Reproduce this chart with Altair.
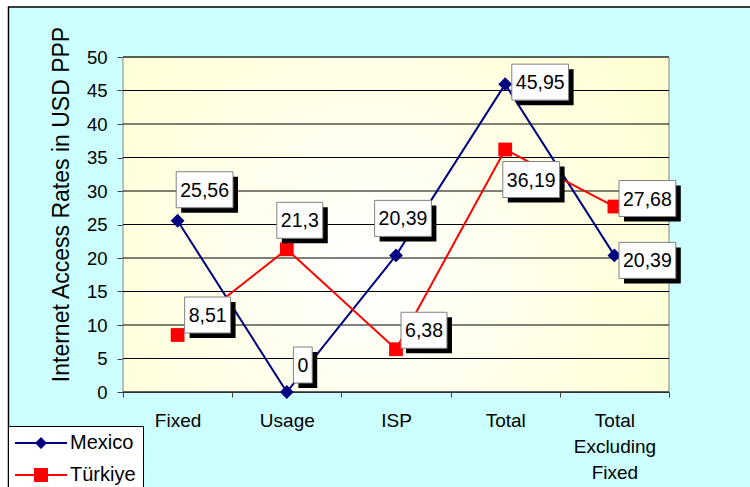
import altair as alt
import pandas as pd

# ---------------- data ----------------
categories = ["Fixed", "Usage", "ISP", "Total", "Total Excluding Fixed"]
series = ["Mexico", "Türkiye"]
mexico = [25.56, 0, 20.39, 45.95, 20.39]
turkiye = [8.51, 21.3, 6.38, 36.19, 27.68]
y_ticks = [0, 5, 10, 15, 20, 25, 30, 35, 40, 45, 50]
y_title = "Internet Access Rates in USD PPP"

# ---------------- layout / style ----------------
FONT = "Liberation Sans"
W, H = 546, 335
PAD = {"left": 123, "top": 57, "right": 81, "bottom": 95}
series_colors = ["#000080", "#FF0000"]
# callout offsets (pixels, relative to each point)
mex_dx = [27, 16, 7, 35, 33]
mex_dy = [-31, -27, -37, -2, 5]
tur_dx = [30, 13, 28, 26, 33]
tur_dy = [-20, -29, -19, 30, -8]
BOX_H = 36
LABEL_FS = 19.5


def fmt(v):
    return f"{v:g}".replace(".", ",")


rows = []
for s, vals in zip(series, [mexico, turkiye]):
    for c, v in zip(categories, vals):
        rows.append({"category": c, "series": s, "value": v, "label": fmt(v)})
df = pd.DataFrame(rows)

y_scale = alt.Scale(domain=[0, 50], nice=False)

x_enc = alt.X(
    "category:N",
    sort=categories,
    scale=alt.Scale(type="band", paddingInner=0, paddingOuter=0),
    axis=alt.Axis(
        title=None,
        labelAngle=0,
        labelExpr="split(datum.label, ' ')",
        labelFontSize=19,
        labelColor="black",
        labelLineHeight=26,
        labelPadding=14,
        tickBand="extent",
        tickSize=5,
        tickColor="#404040",
        domainColor="#404040",
        grid=False,
    ),
)
y_axis = alt.Axis(
    values=y_ticks,
    title=y_title,
    titleFontSize=23,
    titleFontWeight="normal",
    titleColor="black",
    titleAngle=270,
    titleX=-55,
    titleY=147,
    titleAlign="center",
    titleBaseline="alphabetic",
    labelFontSize=18.5,
    labelColor="black",
    labelPadding=10,
    tickSize=6,
    tickColor="#404040",
    domainColor="#404040",
    grid=False,
)
y_enc = alt.Y("value:Q", scale=y_scale, axis=y_axis, title=y_title)

color_scale = alt.Scale(domain=series, range=series_colors)
color_plain = alt.Color("series:N", scale=color_scale, legend=None)

base = alt.Chart(df)
lines = base.mark_line(strokeWidth=2).encode(x=x_enc, y=y_enc, color=color_plain, detail="series:N")
points = base.mark_point(filled=True, opacity=1, size=190).encode(
    x=x_enc,
    y=y_enc,
    color=color_plain,
    shape=alt.Shape("series:N", scale=alt.Scale(domain=series, range=["diamond", "square"]), legend=None),
)

# plot-area background and gridlines
one = pd.DataFrame({"k": [0]})
plot_bg = alt.Chart(one).mark_rect(
    fill=alt.Gradient(
        gradient="radial",
        stops=[alt.GradientStop(color="#FFFFFF", offset=0), alt.GradientStop(color="#FFFFCC", offset=1)],
        x1=0.45, y1=0.58, x2=0.45, y2=0.58, r1=0, r2=0.72,
    ),
    stroke="#808080",
    strokeWidth=1,
).encode(x=alt.value(0), x2=alt.value(W), y=alt.value(0), y2=alt.value(H))

grid = alt.Chart(pd.DataFrame({"value": y_ticks})).mark_rule(color="black", strokeWidth=1).encode(
    y=y_enc
)

# legend (line + marker symbols), drawn from an empty layer
mex_sym = "M-1,-0.1L4.2,-0.1L4.2,0.1L-1,0.1ZM1.6,-0.6L2.2,0L1.6,0.6L1,0Z"
tur_sym = "M-1,-0.1L4.2,-0.1L4.2,0.1L-1,0.1ZM0.9,-0.7L2.3,-0.7L2.3,0.7L0.9,0.7Z"
legend = alt.Legend(
    title=None,
    orient="none",
    legendX=-115,
    legendY=369,
    fillColor="white",
    strokeColor="black",
    padding=7,
    symbolSize=400,
    labelFont=FONT,
    labelFontSize=20,
    labelColor="black",
    labelOffset=35,
    rowPadding=12,
    symbolOpacity=1,
    symbolStrokeWidth=0,
)
legend_layer = base.transform_filter("false").mark_point(filled=True, opacity=1).encode(
    x=x_enc,
    y=y_enc,
    color=alt.Color("series:N", scale=color_scale, legend=legend),
    shape=alt.Shape("series:N", scale=alt.Scale(domain=series, range=[mex_sym, tur_sym]), legend=legend),
)

# decorative frame (white page margin + black frame line)
frame_layers = [
    alt.Chart(one).mark_rect(fill="white").encode(
        x=alt.value(-PAD["left"]), x2=alt.value(W + PAD["right"]), y=alt.value(-PAD["top"]), y2=alt.value(-50.5)
    ),
    alt.Chart(one).mark_rect(fill="white").encode(
        x=alt.value(-PAD["left"]), x2=alt.value(-115), y=alt.value(-PAD["top"]), y2=alt.value(H + PAD["bottom"])
    ),
    alt.Chart(one).mark_rect(fillOpacity=0, stroke="black", strokeWidth=1.5).encode(
        x=alt.value(-114.5), x2=alt.value(W + 300), y=alt.value(-50), y2=alt.value(H + 300)
    ),
]


def box_path(w, h):
    a, b = w / 100, h / 100
    return f"M{-a},{-b}L{a},{-b}L{a},{b}L{-a},{b}Z"


label_layers = []
for s, dxs, dys in [("Mexico", mex_dx, mex_dy), ("Türkiye", tur_dx, tur_dy)]:
    vals = mexico if s == "Mexico" else turkiye
    for c, v, dx, dy in zip(categories, vals, dxs, dys):
        txt = fmt(v)
        w = sum(0.556 if ch.isdigit() else 0.278 for ch in txt) * LABEL_FS + 8
        path = box_path(w, BOX_H)
        sub = base.transform_filter((alt.datum.series == s) & (alt.datum.category == c))
        label_layers.append(
            sub.mark_point(shape=path, size=10000, filled=True, fill="black", strokeOpacity=0,
                           opacity=1, xOffset=dx + 5, yOffset=dy + 5).encode(x=x_enc, y=y_enc)
        )
        label_layers.append(
            sub.mark_point(shape=path, size=10000, filled=True, fill="white", stroke="#808080",
                           strokeWidth=1, opacity=1, xOffset=dx, yOffset=dy).encode(x=x_enc, y=y_enc)
        )
        label_layers.append(
            sub.mark_text(dx=dx, dy=dy + 1, fontSize=LABEL_FS, font=FONT, color="black",
                          align="center", baseline="middle").encode(x=x_enc, y=y_enc, text="label:N")
        )

chart = (
    alt.layer(*frame_layers, plot_bg, grid, lines, points, legend_layer, *label_layers)
    .resolve_scale(shape="independent", color="independent")
    .properties(
        width=W,
        height=H,
        padding=PAD,
        autosize=alt.AutoSizeParams(type="none"),
        background="#CCFFFF",
    )
    .configure_view(stroke="transparent")
    .configure_axis(labelFont=FONT, titleFont=FONT)
    .configure_legend(labelFont=FONT)
)

chart.save("out.html", embed_options={"renderer": "svg", "actions": False})
